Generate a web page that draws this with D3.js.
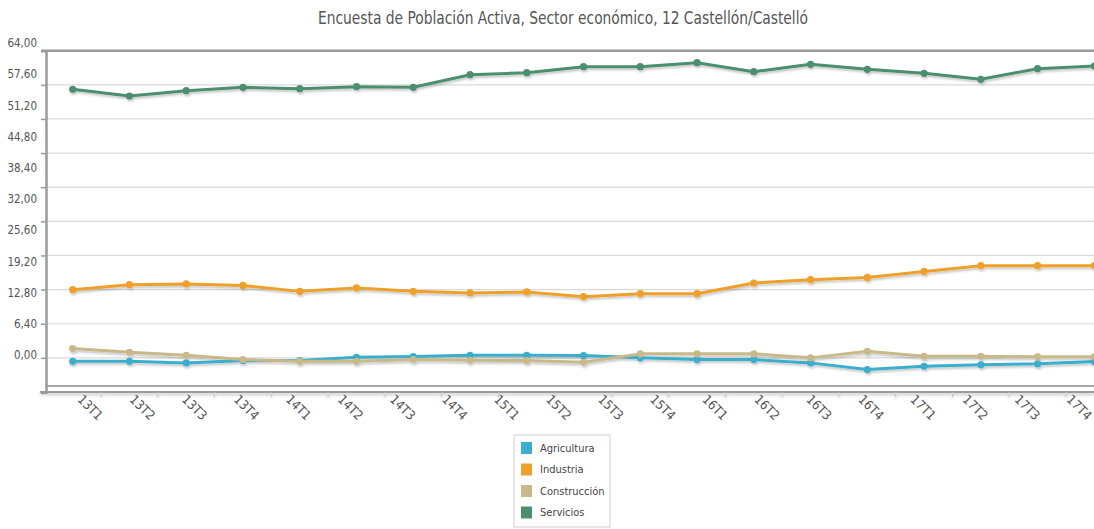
<!DOCTYPE html>
<html>
<head>
<meta charset="utf-8">
<script src="https://cdn.jsdelivr.net/npm/d3@7"></script>
<style>
  body { margin: 0; background: #fff; }
  svg { display: block; }
  text { font-family: "Liberation Sans Narrow", "DejaVu Sans Condensed", "Liberation Sans", sans-serif; }
</style>
</head>
<body>
<svg id="chart" width="1094" height="529"></svg>
<script>
// Quarters (año + trimestre)
const periods = ["13T1","13T2","13T3","13T4","14T1","14T2","14T3","14T4",
                 "15T1","15T2","15T3","15T4","16T1","16T2","16T3","16T4",
                 "17T1","17T2","17T3","17T4"];

// Series values per quarter
const agricultura  = [-0.64,-0.64,-0.94,-0.51,-0.51, 0.11, 0.24, 0.49, 0.49, 0.43,
                       0.00,-0.32,-0.32,-0.94,-2.19,-1.57,-1.31,-1.12,-0.69,-0.60];
const industria    = [12.79,13.72,13.86,13.59,12.47,13.11,12.47,12.17,12.36,11.48,
                      12.04,12.04,14.04,14.66,15.09,16.21,17.28,17.28,17.28,17.30];
const construccion = [ 1.74, 1.05, 0.49,-0.32,-0.64,-0.64,-0.32,-0.45,-0.51,-0.82,
                       0.75, 0.75, 0.75, 0.00, 1.24, 0.30, 0.30, 0.19, 0.19, 0.20];
const servicios    = [50.37,49.11,50.11,50.74,50.48,50.85,50.74,53.10,53.48,54.60,
                      54.60,55.35,53.66,55.05,54.11,53.36,52.24,54.23,54.73,54.90];

const seriesNames  = ["Agricultura", "Industria", "Construcción", "Servicios"];
const seriesColors = ["#3aaecb", "#eea02b", "#c8b98b", "#4c8f6f"];

// Axis tick values
const gridValues  = d3.range(0, 11).map(i => -6.4 + i * 6.4);
const yTickValues = [0, 6.4, 12.8, 19.2, 25.6, 32, 38.4, 44.8, 51.2, 57.6, 64];

const titleText = "Encuesta de Población Activa, Sector económico, 12 Castellón/Castelló";

const series = seriesNames.map((name, i) => ({
  name,
  color: seriesColors[i],
  values: [agricultura, industria, construccion, servicios][i]
}));

const svg = d3.select("#chart");
const W = 1094;

const esLocale = d3.formatLocale({ decimal: ",", thousands: ".", grouping: [3], currency: ["", " €"] });
const fmt = esLocale.format(".2f");

// Scales
const x = d3.scalePoint().domain(periods).range([72.7, 1151.1]);
const step = x.step();
const y = d3.scaleLinear().domain([-6.4, 57.6]).range([392, 50.7]);
const yLabel = d3.scaleLinear().domain([0, 64]).range([355, 43]);
const xLabel = d3.scalePoint().domain(periods).range([80, 1069]);

// Filters
const defs = svg.append("defs");
const sh = defs.append("filter").attr("id", "shadow")
  .attr("x", "-5%").attr("y", "-50%").attr("width", "110%").attr("height", "200%");
sh.append("feDropShadow").attr("dx", 1).attr("dy", 2).attr("stdDeviation", 1.2)
  .attr("flood-color", "#000").attr("flood-opacity", 0.22);
const shAxis = defs.append("filter").attr("id", "axisShadow")
  .attr("x", "-5%").attr("y", "-50%").attr("width", "110%").attr("height", "300%");
shAxis.append("feDropShadow").attr("dx", 0).attr("dy", 2).attr("stdDeviation", 1.5)
  .attr("flood-color", "#000").attr("flood-opacity", 0.25);

// Title
svg.append("text")
  .attr("x", 563).attr("y", 24)
  .attr("text-anchor", "middle")
  .attr("font-size", 18.5)
  .attr("fill", "#555")
  .attr("textLength", 490)
  .attr("lengthAdjust", "spacingAndGlyphs")
  .text(titleText);

// Gridlines
svg.append("g")
  .selectAll("line")
  .data(gridValues.slice(1, -1))
  .join("line")
  .attr("x1", 47).attr("x2", W)
  .attr("y1", d => y(d)).attr("y2", d => y(d))
  .attr("stroke", "#d9d9d9").attr("stroke-width", 1.2);

// Plot frame: top edge and inner bottom edge
svg.append("line").attr("x1", 41).attr("x2", W).attr("y1", y(57.6)).attr("y2", y(57.6))
  .attr("stroke", "#9a9a9a").attr("stroke-width", 2.5);
svg.append("line").attr("x1", 47).attr("x2", W).attr("y1", 386).attr("y2", 386)
  .attr("stroke", "#8a8a8a").attr("stroke-width", 1.5);

// Y axis (tick marks only, at the gridline values)
const yAxis = d3.axisLeft(y).tickValues(gridValues).tickSize(5).tickFormat("");
const gy = svg.append("g").attr("transform", "translate(46,0)").call(yAxis);
gy.select(".domain").attr("stroke", "#9a9a9a").attr("stroke-width", 2.5);
gy.selectAll(".tick line").attr("stroke", "#9a9a9a").attr("stroke-width", 1.5);

// Y tick labels
const yLab = d3.axisLeft(yLabel).tickValues(yTickValues).tickSize(0).tickFormat(fmt);
const gyl = svg.append("g").attr("transform", "translate(37,0)").call(yLab);
gyl.select(".domain").remove();
gyl.selectAll(".tick text")
  .attr("x", 0)
  .attr("font-size", 11.5)
  .attr("fill", "#555")
  .style("font-family", "'DejaVu Sans Condensed', sans-serif");

// X axis line with tick marks between quarters
const xAxisG = svg.append("g").attr("filter", "url(#axisShadow)");
xAxisG.append("line").attr("x1", 40).attr("x2", W).attr("y1", 392).attr("y2", 392)
  .attr("stroke", "#9a9a9a").attr("stroke-width", 2);
xAxisG.selectAll("line.tk")
  .data(periods)
  .join("line").attr("class", "tk")
  .attr("x1", d => x(d) + step / 2).attr("x2", d => x(d) + step / 2)
  .attr("y1", 392).attr("y2", 397)
  .attr("stroke", "#c4c4c4").attr("stroke-width", 1);

// X tick labels, rotated
svg.append("g")
  .selectAll("text")
  .data(periods)
  .join("text")
  .attr("transform", d => `translate(${xLabel(d)},397) rotate(45)`)
  .attr("dy", "0.35em")
  .attr("text-anchor", "start")
  .attr("font-size", 13)
  .attr("fill", "#555")
  .style("font-family", "'DejaVu Sans Condensed', sans-serif")
  .text(d => d);

// Series lines and markers
const line = d3.line().x((d, i) => x(periods[i])).y(d => y(d));
const gs = svg.append("g").attr("filter", "url(#shadow)");
const sg = gs.selectAll("g.series").data(series).join("g").attr("class", "series");
sg.append("path")
  .attr("d", d => line(d.values))
  .attr("fill", "none")
  .attr("stroke", d => d.color)
  .attr("stroke-width", 3)
  .attr("stroke-linejoin", "round");
sg.selectAll("circle")
  .data(d => d.values.map((v, i) => ({ v, i, color: d.color })))
  .join("circle")
  .attr("cx", d => x(periods[d.i]))
  .attr("cy", d => y(d.v))
  .attr("r", 3.6)
  .attr("fill", d => d.color);

// Legend
const lg = svg.append("g").attr("transform", "translate(514,435)");
lg.append("rect").attr("width", 96).attr("height", 92)
  .attr("fill", "#fff").attr("stroke", "#d0d0d0").attr("stroke-width", 1);
const li = lg.selectAll("g.item").data(series).join("g").attr("class", "item")
  .attr("transform", (d, i) => `translate(7,${13 + i * 21.5})`);
li.append("rect").attr("x", 0).attr("y", -6).attr("width", 11).attr("height", 12)
  .attr("fill", d => d.color);
li.append("text").attr("x", 19).attr("dy", "0.35em")
  .attr("font-size", 11)
  .attr("fill", "#444")
  .style("font-family", "'DejaVu Sans Condensed', sans-serif")
  .text(d => d.name);
</script>
</body>
</html>
